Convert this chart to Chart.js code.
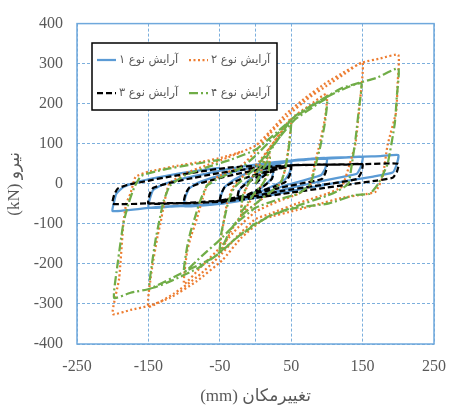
<!DOCTYPE html>
<html><head><meta charset="utf-8">
<script src="https://cdn.jsdelivr.net/npm/chart.js@4/dist/chart.umd.min.js"></script>
<style>html,body{margin:0;padding:0;background:#fff}#wrap{width:459px;height:407px}</style>
</head><body><div id="wrap"><canvas id="c" width="459" height="407"></canvas></div>
<script>
// Series names (legend)
const seriesNames = ['آرایش نوع ۱', 'آرایش نوع ۲', 'آرایش نوع ۳', 'آرایش نوع ۴'];
// Axis ticks
const xGridValues = [-250, -150, -50, 0, 50, 150, 250];
const xTickLabels = [-250, -150, -50, 50, 150, 250];
const yTickValues = [-400, -300, -200, -100, 0, 100, 200, 300, 400];
const xTitle = '(mm) تغییرمکان';
const yTitle = '(kN) نیرو';

// Series 1 (displacement mm, force kN)
const series1 = [
 [0,0],[12,25],[25,40],[23,15],[12,-5],[0,-20],[-12,-30],[-25,-42],[-23,-18],[-12,5],[0,22],[12,35],[25,45],
 [38,52],[50,56],[48,30],[42,12],[25,-5],[0,-25],[-25,-42],[-50,-50],[-48,-28],[-43,-8],[-30,10],[-10,28],[15,42],[35,52],[50,58],
 [75,62],[100,64],[98,40],[92,22],[70,10],[40,-5],[10,-25],[-20,-42],[-60,-52],[-100,-56],[-98,-32],[-93,-12],[-80,3],[-55,18],[-25,32],[5,45],[40,55],[70,60],[100,65],
 [125,66],[150,67],[148,45],[142,25],[115,15],[80,2],[45,-12],[10,-28],[-30,-44],[-80,-53],[-120,-57],[-150,-60],[-148,-38],[-143,-15],[-130,-2],[-105,12],[-70,25],[-35,38],[0,48],[50,58],[100,63],[150,68],
 [175,69],[200,72],[198,50],[192,28],[165,18],[130,8],[90,-5],[50,-18],[10,-32],[-40,-45],[-90,-53],[-140,-58],[-200,-68],[-198,-45],[-195,-25],[-185,-8],[-165,5],[-140,15],[-110,25],[-80,33],[-50,40]
];
// Series 2
const series2 = [
 [0,0],[10,40],[20,75],[18,30],[10,0],[0,-25],[-10,-50],[-20,-80],[-18,-35],[-10,0],[0,30],[10,60],[20,90],
 [35,125],[50,165],[47,100],[42,40],[37,10],[30,-10],[15,-30],[0,-50],[-20,-80],[-35,-120],[-50,-175],[-48,-130],[-45,-100],[-40,-50],[-32,-10],[-20,15],[0,45],[20,90],[40,140],[55,170],
 [75,195],[100,225],[97,160],[90,100],[83,50],[76,-5],[60,-25],[30,-45],[0,-70],[-25,-110],[-50,-160],[-75,-205],[-100,-250],[-96,-171],[-90,-129],[-84,-98],[-76,-49],[-67,0],[-50,20],[-20,45],[0,80],[20,125],[45,170],[75,215],[100,245],[125,275],[150,303],
 [146,200],[140,100],[132,50],[121,-7],[100,-25],[60,-48],[20,-75],[0,-88],[-25,-130],[-50,-180],[-80,-230],[-115,-275],[-150,-307],[-145,-212],[-137,-129],[-133,-98],[-128,-49],[-121,0],[-100,25],[-70,45],[-40,65],[0,95],[20,130],[43,175],[70,215],[98,251],[125,280],[150,303],[175,313],[200,322],
 [199,250],[197,180],[185,97],[178,17],[168,-20],[150,-27],[121,-35],[90,-50],[57,-66],[12,-88],[-20,-135],[-46,-190],[-83,-244],[-120,-285],[-150,-305],[-175,-315],[-200,-325],[-191,-237],[-185,-98],[-181,-49],[-175,-24],[-168,17],[-150,30],[-110,45],[-75,55],[-46,66],[-20,80]
];
// Series 3
const series3 = [
 [0,0],[12,20],[25,32],[23,12],[12,-5],[0,-18],[-12,-28],[-25,-36],[-23,-15],[-12,2],[0,15],[12,26],[25,34],
 [50,44],[48,22],[42,5],[25,-8],[0,-22],[-25,-35],[-50,-47],[-48,-25],[-43,-8],[-30,5],[-5,20],[20,33],[50,46],
 [75,47],[100,48],[98,28],[93,12],[70,3],[40,-8],[10,-20],[-25,-33],[-60,-45],[-100,-48],[-98,-25],[-93,-10],[-80,0],[-55,12],[-25,25],[10,37],[50,46],[100,48],
 [125,48],[150,49],[148,28],[142,12],[115,3],[80,-6],[40,-17],[0,-30],[-50,-42],[-100,-48],[-150,-49],[-148,-25],[-143,-10],[-125,0],[-95,12],[-60,24],[-20,35],[20,43],[60,47],[150,49],
 [200,50],[198,30],[192,15],[170,8],[130,-2],[90,-12],[50,-22],[0,-35],[-50,-45],[-100,-48],[-150,-49],[-200,-50],[-198,-28],[-193,-12],[-180,-3],[-155,6],[-120,18],[-80,30],[-40,40],[0,45]
];
// Series 4
const series4 = [
 [0,0],[10,35],[20,65],[18,25],[10,0],[0,-20],[-10,-45],[-20,-70],[-18,-30],[-10,0],[0,25],[10,50],[20,80],
 [35,120],[50,160],[47,95],[42,40],[36,5],[25,-15],[10,-35],[0,-50],[-20,-80],[-35,-115],[-50,-170],[-48,-125],[-44,-90],[-38,-45],[-30,-10],[-15,15],[0,40],[20,85],[40,130],[55,160],
 [75,185],[100,212],[97,150],[91,95],[84,45],[77,0],[60,-25],[30,-40],[0,-60],[-25,-95],[-50,-140],[-75,-180],[-100,-220],[-96,-160],[-91,-120],[-85,-85],[-78,-45],[-68,-5],[-50,15],[-20,40],[0,70],[25,115],[53,163],[75,190],[98,215],[121,235],[148,251],
 [145,190],[140,110],[135,50],[130,0],[115,-18],[100,-30],[57,-56],[20,-80],[-5,-105],[-30,-140],[-49,-171],[-80,-210],[-115,-240],[-148,-261],[-145,-200],[-140,-140],[-135,-95],[-129,-45],[-120,-5],[-100,20],[-70,40],[-35,60],[0,85],[30,129],[60,175],[94,212],[121,239],[145,252],[170,265],[200,288],
 [198,220],[195,150],[185,50],[172,0],[160,-25],[139,-28],[103,-49],[57,-60],[20,-80],[-5,-108],[-30,-140],[-60,-185],[-100,-220],[-148,-262],[-175,-272],[-198,-285],[-194,-212],[-189,-146],[-185,-98],[-178,-50],[-170,-10],[-160,20],[-130,35],[-90,48],[-50,60]
];

const toPts = a => a.map(p => ({x: p[0], y: p[1]}));
const TXT = '#595959';
const serif = "'Liberation Serif','DejaVu Sans',serif";

const frame = {
  id: 'frame',
  beforeDatasetsDraw(chart) {
    const {ctx, chartArea: a} = chart;
    ctx.save();
    ctx.strokeStyle = '#6FA8DC';
    ctx.lineWidth = 1.5;
    ctx.setLineDash([]);
    ctx.strokeRect(a.left, a.top, a.right - a.left, a.bottom - a.top);
    ctx.restore();
  }
};

const boxLegend = {
  id: 'boxLegend',
  afterDraw(chart) {
    const ctx = chart.ctx;
    const bx = 92, by = 43, bw = 185, bh = 67;
    ctx.save();
    ctx.fillStyle = '#fff';
    ctx.fillRect(bx, by, bw, bh);
    ctx.strokeStyle = '#000';
    ctx.lineWidth = 1.5;
    ctx.setLineDash([]);
    ctx.strokeRect(bx, by, bw, bh);
    const cols = [97, 189];
    const rows = [60, 93];
    chart.data.datasets.forEach((ds, i) => {
      const cx = cols[i % 2], cy = rows[Math.floor(i / 2)];
      ctx.strokeStyle = ds.borderColor;
      ctx.lineWidth = ds.borderWidth;
      ctx.setLineDash(ds.borderDash || []);
      ctx.lineCap = 'butt';
      ctx.beginPath();
      ctx.moveTo(cx, cy);
      ctx.lineTo(cx + 19, cy);
      ctx.stroke();
      ctx.setLineDash([]);
      ctx.fillStyle = TXT;
      ctx.font = "11.5px 'DejaVu Sans', sans-serif";
      ctx.textAlign = 'left';
      ctx.textBaseline = 'middle';
      ctx.fillText(ds.label, cx + 22, cy);
    });
    ctx.restore();
  }
};

new Chart(document.getElementById('c'), {
  type: 'scatter',
  data: {
    datasets: [
      {label: seriesNames[0], data: toPts(series1), borderColor: '#5B9BD5', borderWidth: 2.25, borderDash: [], order: 4},
      {label: seriesNames[1], data: toPts(series2), borderColor: '#ED7D31', borderWidth: 2.25, borderDash: [2, 2.5], order: 3},
      {label: seriesNames[2], data: toPts(series3), borderColor: '#000000', borderWidth: 2.25, borderDash: [6, 3], order: 2},
      {label: seriesNames[3], data: toPts(series4), borderColor: '#70AD47', borderWidth: 2.25, borderDash: [9, 3, 2, 3], order: 1}
    ].map(d => Object.assign(d, {showLine: true, pointRadius: 0, fill: false, tension: 0.15}))
  },
  options: {
    responsive: false,
    animation: false,
    layout: {padding: {top: 16, right: 14, left: 0, bottom: 0}},
    plugins: {legend: {display: false}, tooltip: {enabled: false}},
    scales: {
      x: {
        type: 'linear', min: -250, max: 250,
        afterFit(s) { s.height = 63; },
        afterBuildTicks(s) { s.ticks = xGridValues.map(v => ({value: v})); },
        ticks: {
          padding: 13, color: TXT, font: {family: serif, size: 16},
          callback: v => xTickLabels.includes(v) ? String(v) : ''
        },
        grid: {color: 'rgba(91,155,213,0.8)', lineWidth: 1, drawTicks: false},
        border: {display: false, dash: [3, 2]},
        title: {display: true, text: xTitle, color: TXT, font: {family: serif, size: 17}, padding: {top: 0, bottom: 0}}
      },
      y: {
        type: 'linear', min: -400, max: 400,
        afterFit(s) { s.width = 77; },
        afterBuildTicks(s) { s.ticks = yTickValues.map(v => ({value: v})); },
        ticks: {padding: 14, color: TXT, font: {family: serif, size: 16}},
        grid: {color: 'rgba(91,155,213,0.8)', lineWidth: 1, drawTicks: false},
        border: {display: false, dash: [3, 2]},
        title: {display: true, text: yTitle, color: TXT, font: {family: serif, size: 17}, padding: {top: 4, bottom: 0}}
      }
    }
  },
  plugins: [frame, boxLegend]
});
</script></body></html>
